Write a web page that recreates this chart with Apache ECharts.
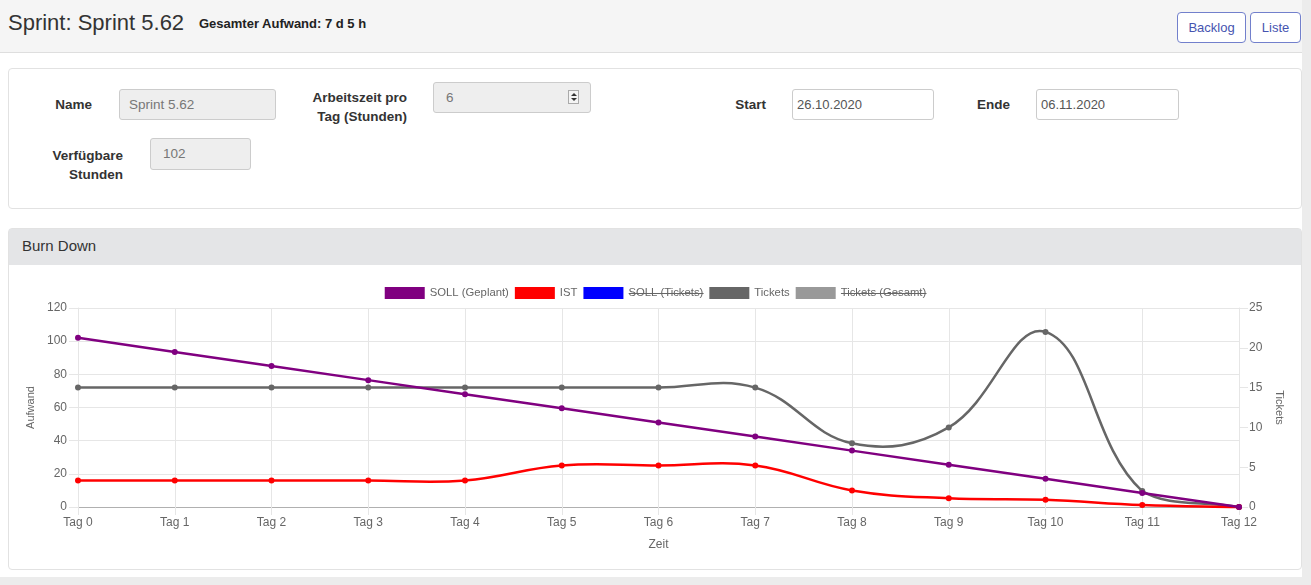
<!DOCTYPE html>
<html lang="de">
<head>
<meta charset="utf-8">
<title>Sprint 5.62</title>
<script src="https://cdn.jsdelivr.net/npm/echarts@6/dist/echarts.min.js"></script>
<style>
  html, body { margin: 0; padding: 0; }
  body {
    width: 1311px; height: 585px; overflow: hidden;
    background: #ececec;
    font-family: "Liberation Sans", Arial, Helvetica, sans-serif;
    color: #333;
    position: relative;
  }
  .page { position: absolute; left: 0; top: 0; width: 1302px; height: 577px; background: #fff; }
  .topbar {
    position: absolute; left: 0; top: 0; width: 1302px; height: 52px;
    background: #f5f5f5; border-bottom: 1px solid #dedede;
  }
  .title { position: absolute; left: 8px; top: 10px; font-size: 22px; color: #333; white-space: nowrap; }
  .total { position: absolute; left: 199px; top: 16px; font-size: 13px; font-weight: bold; color: #222; white-space: nowrap; }
  .btn {
    position: absolute; top: 12px; height: 29px;
    border: 1px solid #7280cc; border-radius: 4px; background: #fff;
    color: #4654b0; font-size: 13px; line-height: 29px; text-align: center;
  }
  .card {
    position: absolute; left: 8px; width: 1292px;
    border: 1px solid #e2e2e2; border-radius: 4px; background: #fff;
  }
  .lbl {
    position: absolute; font-size: 13.5px; font-weight: bold; color: #333;
    text-align: right; line-height: 19px; white-space: nowrap;
  }
  .inp {
    position: absolute; height: 29px; box-sizing: border-box;
    border: 1px solid #ccc; border-radius: 3px;
    font-size: 13px; line-height: 27px; color: #555; white-space: nowrap;
  }
  .inp.ro { background: #eee; color: #777; height: 31px; line-height: 29px; font-size: 13.5px; }
  .spin {
    position: absolute; right: 11px; top: 7px; width: 11px; height: 14px;
    border: 1px solid #aaa; background: #f4f4f4; box-sizing: border-box;
  }
  .spin::before, .spin::after {
    content: ""; position: absolute; left: 2px; width: 0; height: 0;
    border-left: 3px solid transparent; border-right: 3px solid transparent;
  }
  .spin::before { top: 2px; border-bottom: 3px solid #333; }
  .spin::after { bottom: 2px; border-top: 3px solid #333; }
  .cardhead {
    position: absolute; left: 0; top: 0; width: 1292px; height: 36px;
    background: #e4e5e7;
    font-size: 15px; line-height: 34px; color: #333;
  }
  #chart { position: absolute; left: 1px; top: 37px; width: 1291px; height: 304px; }
</style>
</head>
<body>
<div class="page">
  <div class="topbar">
    <div class="title">Sprint: Sprint 5.62</div>
    <div class="total">Gesamter Aufwand: 7 d 5 h</div>
    <div class="btn" style="left:1177px;width:67px;">Backlog</div>
    <div class="btn" style="left:1250px;width:49px;">Liste</div>
  </div>

  <div class="card" style="top:68px;height:139px;">
    <div class="lbl" style="right:1209px;top:26px;">Name</div>
    <div class="inp ro" style="left:110px;top:20px;width:157px;padding-left:9px;">Sprint 5.62</div>

    <div class="lbl" style="right:894px;top:19px;">Arbeitszeit pro<br>Tag (Stunden)</div>
    <div class="inp ro" style="left:424px;top:13px;width:158px;padding-left:12px;">6<span class="spin"></span></div>

    <div class="lbl" style="right:535px;top:26px;">Start</div>
    <div class="inp" style="left:783px;top:20px;width:142px;height:31px;line-height:29px;padding-left:4px;">26.10.2020</div>

    <div class="lbl" style="right:291px;top:26px;">Ende</div>
    <div class="inp" style="left:1027px;top:20px;width:143px;height:31px;line-height:29px;padding-left:4px;">06.11.2020</div>

    <div class="lbl" style="right:1178px;top:77px;">Verfügbare<br>Stunden</div>
    <div class="inp ro" style="left:141px;top:69px;width:101px;height:32px;line-height:30px;padding-left:12px;">102</div>
  </div>

  <div class="card" style="top:228px;height:340px;">
    <div class="cardhead"><span style="margin-left:13px;">Burn Down</span></div>
    <div id="chart"></div>
  </div>
</div>

<script>
const days = ["Tag 0", "Tag 1", "Tag 2", "Tag 3", "Tag 4", "Tag 5", "Tag 6",
  "Tag 7", "Tag 8", "Tag 9", "Tag 10", "Tag 11", "Tag 12"];

// Aufwand (Stunden), linke Achse
const sollGeplant = [102, 93.5, 85, 76.5, 68, 59.5, 51, 42.5, 34, 25.5, 17, 8.5, 0];
const ist = [16, 16, 16, 16, 16, 25, 25, 25, 10, 5.3, 4.4, 1.2, 0];

// Tickets, rechte Achse
const sollTickets = [];   // ausgeblendet
const tickets = [15, 15, 15, 15, 15, 15, 15, 15, 8, 10, 22, 2, 0];
const ticketsGesamt = []; // ausgeblendet

const legendNames = ["SOLL (Geplant)", "IST", "SOLL (Tickets)", "Tickets", "Tickets (Gesamt)"];
const hiddenNames = ["SOLL (Tickets)", "Tickets (Gesamt)"];

const aufwandAxis = { min: 0, max: 120, step: 20 };
const ticketAxis = { min: 0, max: 25, step: 5 };

const FONT = '"Liberation Sans", Arial, Helvetica, sans-serif';
const gridColor = "#e6e6e6";
const textColor = "#666";
const TENSION = 0.4;

const chartEl = document.getElementById("chart");
const myChart = echarts.init(chartEl, null, { renderer: "canvas" });

// legend layout values, also used for the strike-through lines
const legendCfg = { top: 16, padding: 5, itemWidth: 40, itemHeight: 12, itemGap: 6, textGap: 5, fontSize: 11.3 };

// points + legend entry (line itself is drawn by the curve series below)
function pointSeries(name, data, color, yAxisIndex, z, showLine) {
  return {
    name: name,
    type: "line",
    data: data,
    yAxisIndex: yAxisIndex,
    z: z,
    symbol: "circle",
    symbolSize: 6,
    lineStyle: { color: color, width: 2.5, opacity: showLine ? 1 : 0 },
    itemStyle: { color: color },
  };
}

// cubic bezier like the old chart (tension 0.4, control points capped to the plot)
function curveSeries(values, color, yAxisIndex, z) {
  return {
    type: "custom",
    name: "_curve",
    yAxisIndex: yAxisIndex,
    z: z,
    silent: true,
    data: values.map((v, i) => [i, v]),
    renderItem: function (params, api) {
      const i = params.dataIndex;
      const n = values.length;
      if (i >= n - 1) return null;
      const pt = (k) => api.coord([Math.max(0, Math.min(n - 1, k)), values[Math.max(0, Math.min(n - 1, k))]]);
      const cs = params.coordSys;
      const cap = (p) => [
        Math.max(cs.x, Math.min(cs.x + cs.width, p[0])),
        Math.max(cs.y, Math.min(cs.y + cs.height, p[1])),
      ];
      function cps(k) {
        const prev = pt(k - 1), cur = pt(k), next = pt(k + 1);
        const d01 = Math.hypot(cur[0] - prev[0], cur[1] - prev[1]);
        const d12 = Math.hypot(next[0] - cur[0], next[1] - cur[1]);
        let s01 = d01 / (d01 + d12), s12 = d12 / (d01 + d12);
        if (isNaN(s01)) s01 = 0;
        if (isNaN(s12)) s12 = 0;
        const fa = TENSION * s01, fb = TENSION * s12;
        return {
          before: cap([cur[0] - fa * (next[0] - prev[0]), cur[1] - fa * (next[1] - prev[1])]),
          after: cap([cur[0] + fb * (next[0] - prev[0]), cur[1] + fb * (next[1] - prev[1])]),
        };
      }
      const p0 = pt(i), p1 = pt(i + 1);
      const c0 = cps(i), c1 = cps(i + 1);
      return {
        type: "bezierCurve",
        shape: {
          x1: p0[0], y1: p0[1], x2: p1[0], y2: p1[1],
          cpx1: c0.after[0], cpy1: c0.after[1],
          cpx2: c1.before[0], cpy2: c1.before[1],
        },
        style: { stroke: color, lineWidth: 2.5, fill: null },
      };
    },
  };
}

function strikeLines() {
  // measure legend texts to put a line through the hidden datasets
  const ctx = document.createElement("canvas").getContext("2d");
  ctx.font = legendCfg.fontSize + "px " + FONT;
  const widths = legendNames.map((n) => legendCfg.itemWidth + legendCfg.textGap + ctx.measureText(n).width);
  const total = widths.reduce((a, b) => a + b, 0) + legendCfg.itemGap * (widths.length - 1);
  let x = Math.round((chartEl.clientWidth - total - legendCfg.padding * 2) / 2) + legendCfg.padding;
  const y = legendCfg.top + legendCfg.padding + legendCfg.itemHeight / 2 + 0.5;
  const items = [];
  legendNames.forEach((n, i) => {
    if (hiddenNames.includes(n)) {
      const x1 = x + legendCfg.itemWidth + legendCfg.textGap;
      items.push({
        type: "line",
        silent: true,
        shape: { x1: x1, y1: y, x2: x + widths[i], y2: y },
        style: { stroke: textColor, lineWidth: 1 },
        z: 100,
      });
    }
    x += widths[i] + legendCfg.itemGap;
  });
  return items;
}

const options = {
  animation: false,
  textStyle: { fontFamily: FONT },
  legend: {
    top: legendCfg.top,
    left: "center",
    padding: legendCfg.padding,
    itemWidth: legendCfg.itemWidth,
    itemHeight: legendCfg.itemHeight,
    itemGap: legendCfg.itemGap,
    icon: "rect",
    data: legendNames,
    textStyle: { color: textColor, fontSize: legendCfg.fontSize, fontFamily: FONT },
    selectedMode: false,
  },
  grid: { left: 68, right: 62, top: 42, bottom: 63 },
  xAxis: {
    type: "category",
    data: days,
    boundaryGap: false,
    name: "Zeit",
    nameLocation: "middle",
    nameGap: 32,
    nameTextStyle: { color: textColor, fontSize: 12 },
    axisLine: { lineStyle: { color: "#b0b0b0", width: 1 } },
    axisTick: { show: true, length: 8, lineStyle: { color: gridColor } },
    axisLabel: { color: textColor, fontSize: 12, margin: 10, interval: 0 },
    splitLine: { show: true, lineStyle: { color: gridColor } },
  },
  yAxis: [
    {
      type: "value",
      position: "left",
      min: aufwandAxis.min,
      max: aufwandAxis.max,
      interval: aufwandAxis.step,
      name: "Aufwand",
      nameLocation: "middle",
      nameRotate: 90,
      nameGap: 40,
      nameTextStyle: { color: textColor, fontSize: 11 },
      axisLine: { show: true, lineStyle: { color: gridColor } },
      axisTick: { show: true, length: 9, lineStyle: { color: gridColor } },
      axisLabel: { color: textColor, fontSize: 12, margin: 11 },
      splitLine: { show: true, lineStyle: { color: gridColor } },
    },
    {
      type: "value",
      position: "right",
      min: ticketAxis.min,
      max: ticketAxis.max,
      interval: ticketAxis.step,
      name: "Tickets",
      nameLocation: "middle",
      nameRotate: -90,
      nameGap: 30,
      nameTextStyle: { color: textColor, fontSize: 11 },
      axisLine: { show: true, lineStyle: { color: gridColor } },
      axisTick: { show: true, length: 9, lineStyle: { color: gridColor } },
      axisLabel: { color: textColor, fontSize: 12, margin: 10 },
      splitLine: { show: false },
    },
  ],
  series: [
    pointSeries("SOLL (Geplant)", sollGeplant, "#800080", 0, 6, true),
    pointSeries("IST", ist, "#ff0000", 0, 5, false),
    curveSeries(ist, "#ff0000", 0, 5),
    pointSeries("SOLL (Tickets)", sollTickets, "#0000ff", 1, 4, true),
    pointSeries("Tickets", tickets, "#666666", 1, 3, false),
    curveSeries(tickets, "#666666", 1, 3),
    pointSeries("Tickets (Gesamt)", ticketsGesamt, "#999999", 1, 2, true),
  ],
  graphic: strikeLines(),
};

myChart.setOption(options, true);

window.addEventListener("resize", function () {
  if (myChart) myChart.resize();
});
</script>
</body>
</html>
